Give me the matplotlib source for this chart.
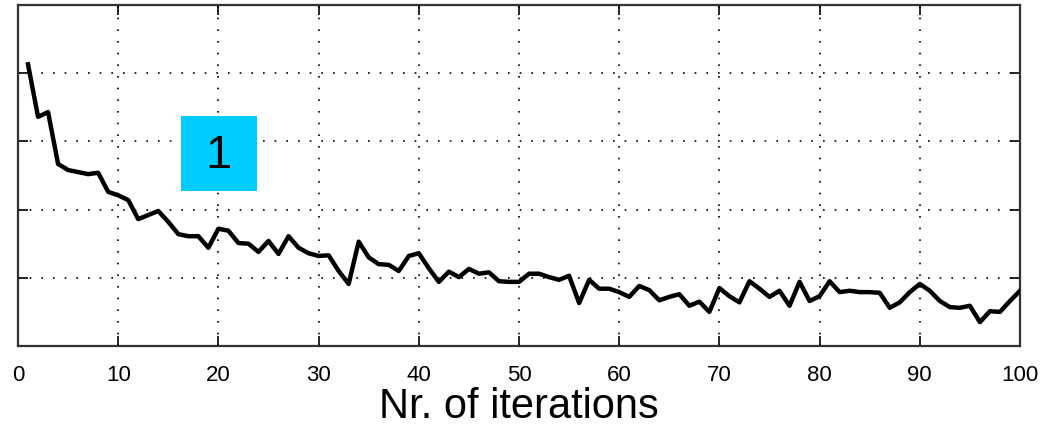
import numpy as np
import matplotlib.pyplot as plt
from matplotlib.patches import Rectangle

# error per iteration
iterations = list(range(1, 101))
error = [4.13, 3.36, 3.43, 2.67, 2.58, 2.55, 2.52, 2.54, 2.26, 2.21,
         2.14, 1.86, 1.92, 1.98, 1.82, 1.64, 1.61, 1.61, 1.44, 1.72,
         1.69, 1.51, 1.50, 1.38, 1.54, 1.35, 1.61, 1.44, 1.36, 1.32,
         1.33, 1.10, 0.91, 1.53, 1.30, 1.20, 1.19, 1.10, 1.32, 1.36,
         1.14, 0.94, 1.09, 1.01, 1.13, 1.06, 1.08, 0.95, 0.94, 0.94,
         1.06, 1.06, 1.01, 0.97, 1.03, 0.63, 0.97, 0.84, 0.84, 0.79,
         0.72, 0.88, 0.82, 0.67, 0.72, 0.76, 0.59, 0.65, 0.50, 0.85,
         0.73, 0.64, 0.95, 0.84, 0.72, 0.81, 0.59, 0.94, 0.66, 0.73,
         0.95, 0.79, 0.81, 0.79, 0.79, 0.78, 0.56, 0.64, 0.79, 0.91,
         0.81, 0.66, 0.57, 0.56, 0.59, 0.35, 0.51, 0.50, 0.66, 0.81]
xticks = list(range(0, 101, 10))
yticks = [1, 2, 3, 4]
label_text = "1"

font = ['Liberation Sans', 'DejaVu Sans']

fig = plt.figure(figsize=(10.43, 4.27), dpi=100)
ax = fig.add_axes([18 / 1043, 1 - 347 / 427, 1002 / 1043, 341 / 427])

ax.plot(iterations, error, color='black', lw=3.2, zorder=3)

ax.set_xlim(0, 100)
ax.set_ylim(0, 5)
ax.set_xticks(xticks)
ax.set_xticklabels([str(t) for t in xticks], family=font, fontsize=16)
ax.set_yticks(yticks)
ax.set_yticklabels([])
ax.tick_params(direction='in', length=7, width=1.2, top=True, right=True, pad=13)
ax.grid(True, color='black', linestyle=(0, (1, 6)), linewidth=1.2)
for s in ax.spines.values():
    s.set_linewidth(1.6)
    s.set_color('#333333')

ax.set_xlabel('Nr. of iterations', family=font, fontsize=30, labelpad=1)

# cyan label box
ax.add_patch(Rectangle((16.3, 2.27), 7.6, 1.1, facecolor='#00ccff', edgecolor='none', zorder=4))
ax.text(20.0, 2.80, label_text, ha='center', va='center', fontsize=34,
        family=font, zorder=5)

fig.savefig('out.png', dpi=100)
